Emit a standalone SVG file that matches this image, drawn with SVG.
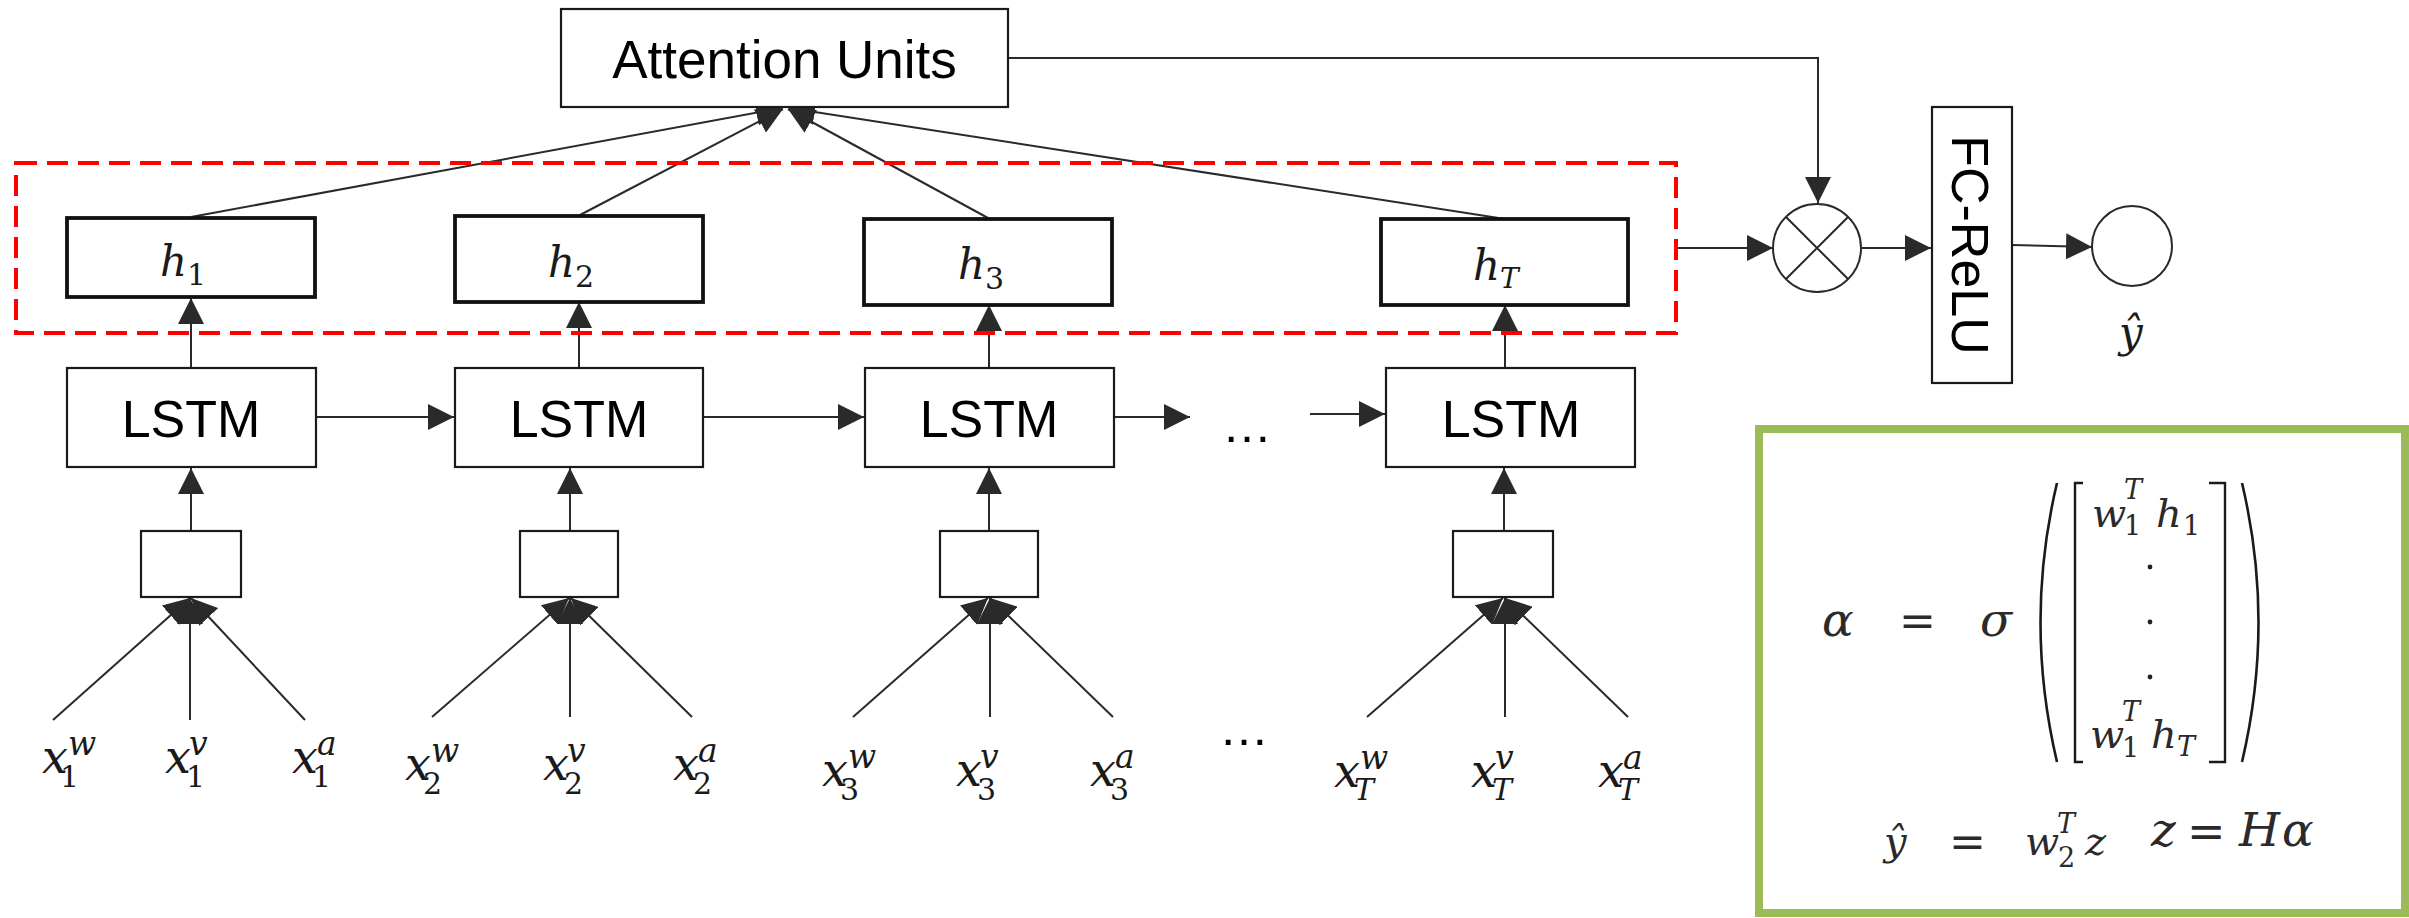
<svg xmlns="http://www.w3.org/2000/svg" width="2409" height="918" viewBox="0 0 2409 918">
<defs>
<marker id="arr" markerUnits="userSpaceOnUse" markerWidth="26" markerHeight="26" viewBox="0 0 26 26" refX="26" refY="13" orient="auto">
<path d="M0,0 L26,13 L0,26 z" fill="#2a2a2a"/>
</marker>
<style>
.box{fill:#fff;stroke:#1a1a1a;stroke-width:2.2}
.hbox{fill:#fff;stroke:#111;stroke-width:3.8}
.ln{fill:none;stroke:#2a2a2a;stroke-width:2}
.sans{font-family:"Liberation Sans",Arial,sans-serif;fill:#000}
.dv{font-family:"DejaVu Serif","Liberation Serif",serif;font-style:italic;fill:#1a1a1a}
.up{font-style:normal}
.xl{font-size:46px}
.sp{font-size:33px}
.sb{font-size:30px}
.fm{font-family:"DejaVu Serif","Liberation Serif",serif;font-style:italic;fill:#2a2a2a}
</style>
</defs>
<rect width="2409" height="918" fill="#fff"/>

<g id="connectors">
<path class="ln" d="M191,217 L782,108" marker-end="url(#arr)"/>
<path class="ln" d="M580,215 L783,109" marker-end="url(#arr)"/>
<path class="ln" d="M988,218 L788,109" marker-end="url(#arr)"/>
<path class="ln" d="M1505,219 L789,108" marker-end="url(#arr)"/>
<path class="ln" d="M1008,58 L1818,58 L1818,203" marker-end="url(#arr)"/>
<path class="ln" d="M191,368 L191,298" marker-end="url(#arr)"/>
<path class="ln" d="M579,368 L579,302" marker-end="url(#arr)"/>
<path class="ln" d="M989,368 L989,305" marker-end="url(#arr)"/>
<path class="ln" d="M1505,368 L1505,305" marker-end="url(#arr)"/>
<path class="ln" d="M316,417 L454,417" marker-end="url(#arr)"/>
<path class="ln" d="M703,417 L864,417" marker-end="url(#arr)"/>
<path class="ln" d="M1114,417 L1190,417" marker-end="url(#arr)"/>
<path class="ln" d="M1310,414 L1385,414" marker-end="url(#arr)"/>
<path class="ln" d="M191,531 L191,468" marker-end="url(#arr)"/>
<path class="ln" d="M570,531 L570,468" marker-end="url(#arr)"/>
<path class="ln" d="M989,531 L989,468" marker-end="url(#arr)"/>
<path class="ln" d="M1504,531 L1504,468" marker-end="url(#arr)"/>
<path class="ln" d="M53,720 L190,598" marker-end="url(#arr)"/>
<path class="ln" d="M190,720 L190,598" marker-end="url(#arr)"/>
<path class="ln" d="M305,720 L191,598" marker-end="url(#arr)"/>
<path class="ln" d="M432,717 L569,598" marker-end="url(#arr)"/>
<path class="ln" d="M570,717 L570,598" marker-end="url(#arr)"/>
<path class="ln" d="M692,717 L571,598" marker-end="url(#arr)"/>
<path class="ln" d="M853,717 L988,598" marker-end="url(#arr)"/>
<path class="ln" d="M990,717 L990,598" marker-end="url(#arr)"/>
<path class="ln" d="M1113,717 L990,598" marker-end="url(#arr)"/>
<path class="ln" d="M1367,717 L1503,598" marker-end="url(#arr)"/>
<path class="ln" d="M1505,717 L1505,598" marker-end="url(#arr)"/>
<path class="ln" d="M1628,717 L1505,598" marker-end="url(#arr)"/>
<path class="ln" d="M1676,248 L1773,248" marker-end="url(#arr)"/>
<path class="ln" d="M1862,248 L1931,248" marker-end="url(#arr)"/>
<path class="ln" d="M2012,245 L2092,247" marker-end="url(#arr)"/>
</g>

<g id="attention">
<rect class="box" x="561" y="9" width="447" height="98"/>
<text class="sans" x="784.5" y="78" font-size="53" text-anchor="middle">Attention Units</text>
</g>

<g id="hidden-group">
<rect x="16" y="163" width="1660" height="170" fill="none" stroke="#ff0000" stroke-width="4" stroke-dasharray="21 10"/>
</g>

<g id="h1">
<rect class="hbox" x="67" y="218" width="248" height="79"/>
<text class="dv" x="160" y="276" font-size="42">h<tspan class="up" font-size="30" dy="9">1</tspan></text>
</g>
<g id="h2">
<rect class="hbox" x="455" y="216" width="248" height="86"/>
<text class="dv" x="548" y="277" font-size="42">h<tspan class="up" font-size="30" dy="10">2</tspan></text>
</g>
<g id="h3">
<rect class="hbox" x="864" y="219" width="248" height="86"/>
<text class="dv" x="958" y="279" font-size="42">h<tspan class="up" font-size="30" dy="10">3</tspan></text>
</g>
<g id="hT">
<rect class="hbox" x="1381" y="219" width="247" height="86"/>
<text class="dv" x="1473" y="280" font-size="42">h<tspan font-size="28" dy="8">T</tspan></text>
</g>

<g id="lstm1">
<rect class="box" x="67" y="368" width="249" height="99"/>
<text class="sans" x="191" y="437" font-size="52" text-anchor="middle">LSTM</text>
</g>
<g id="lstm2">
<rect class="box" x="455" y="368" width="248" height="99"/>
<text class="sans" x="579" y="437" font-size="52" text-anchor="middle">LSTM</text>
</g>
<g id="lstm3">
<rect class="box" x="865" y="368" width="249" height="99"/>
<text class="sans" x="989" y="437" font-size="52" text-anchor="middle">LSTM</text>
</g>
<g id="lstm4">
<rect class="box" x="1386" y="368" width="249" height="99"/>
<text class="sans" x="1511" y="437" font-size="52" text-anchor="middle">LSTM</text>
</g>

<g id="ellipsis-1"><text class="sans" x="1222" y="442" font-size="50">…</text></g>
<g id="ellipsis-2"><text class="sans" x="1219" y="745" font-size="50">…</text></g>

<g id="fuse1"><rect class="box" x="141" y="531" width="100" height="66"/></g>
<g id="fuse2"><rect class="box" x="520" y="531" width="98" height="66"/></g>
<g id="fuse3"><rect class="box" x="940" y="531" width="98" height="66"/></g>
<g id="fuse4"><rect class="box" x="1453" y="531" width="100" height="66"/></g>

<g id="inputs-1">
<text class="dv xl" x="42" y="773">x<tspan class="sp" x="68" y="755">w</tspan><tspan class="sb up" x="60" y="787">1</tspan></text>
<text class="dv xl" x="165" y="773">x<tspan class="sp" x="189" y="755">v</tspan><tspan class="sb up" x="186" y="787">1</tspan></text>
<text class="dv xl" x="292" y="773">x<tspan class="sp" x="317" y="755">a</tspan><tspan class="sb up" x="312" y="787">1</tspan></text>
</g>
<g id="inputs-2">
<text class="dv xl" x="405" y="780">x<tspan class="sp" x="431" y="762">w</tspan><tspan class="sb up" x="423" y="794">2</tspan></text>
<text class="dv xl" x="543" y="780">x<tspan class="sp" x="567" y="762">v</tspan><tspan class="sb up" x="564" y="794">2</tspan></text>
<text class="dv xl" x="673" y="780">x<tspan class="sp" x="698" y="762">a</tspan><tspan class="sb up" x="693" y="794">2</tspan></text>
</g>
<g id="inputs-3">
<text class="dv xl" x="822" y="786">x<tspan class="sp" x="848" y="768">w</tspan><tspan class="sb up" x="840" y="800">3</tspan></text>
<text class="dv xl" x="956" y="786">x<tspan class="sp" x="980" y="768">v</tspan><tspan class="sb up" x="977" y="800">3</tspan></text>
<text class="dv xl" x="1090" y="786">x<tspan class="sp" x="1115" y="768">a</tspan><tspan class="sb up" x="1110" y="800">3</tspan></text>
</g>
<g id="inputs-T">
<text class="dv xl" x="1334" y="787">x<tspan class="sp" x="1360" y="769">w</tspan><tspan class="sb" x="1354" y="800">T</tspan></text>
<text class="dv xl" x="1471" y="787">x<tspan class="sp" x="1495" y="769">v</tspan><tspan class="sb" x="1492" y="800">T</tspan></text>
<text class="dv xl" x="1598" y="787">x<tspan class="sp" x="1623" y="769">a</tspan><tspan class="sb" x="1618" y="800">T</tspan></text>
</g>

<g id="product">
<circle cx="1817" cy="248" r="44" fill="#fff" stroke="#2a2a2a" stroke-width="2"/>
<path class="ln" d="M1786,217 L1848,279 M1848,217 L1786,279"/>
</g>

<g id="fc-relu">
<rect class="box" x="1932" y="107" width="80" height="276"/>
<text class="sans" font-size="52" text-anchor="middle" transform="translate(1952,245) rotate(90)" x="0" y="0">FC-ReLU</text>
</g>

<g id="output">
<circle cx="2132" cy="246" r="40" fill="#fff" stroke="#2a2a2a" stroke-width="2"/>
<text class="dv" x="2119" y="347" font-size="42">ŷ</text>
</g>

<g id="formula">
<rect x="1759" y="429" width="646" height="484" fill="#fff" stroke="#9bbb59" stroke-width="8"/>
<text class="fm" x="1822" y="636" font-size="47">α<tspan class="up" font-size="44" x="1899" y="636">=</tspan><tspan x="1980" y="636">σ</tspan></text>
<path d="M2057,483 Q2024,622 2057,762" fill="none" stroke="#1a1a1a" stroke-width="2.6"/>
<path d="M2083,483 L2075,483 L2075,762 L2083,762" fill="none" stroke="#1a1a1a" stroke-width="2.4"/>
<path d="M2209,483 L2225,483 L2225,762 L2209,762" fill="none" stroke="#1a1a1a" stroke-width="2.4"/>
<path d="M2242,483 Q2275,622 2242,762" fill="none" stroke="#1a1a1a" stroke-width="2.6"/>
<text class="fm" x="2092" y="527" font-size="40">w<tspan font-size="27" x="2124" y="499">T</tspan><tspan class="up" font-size="27" x="2124" y="535">1</tspan><tspan x="2156" y="527">h</tspan><tspan class="up" font-size="27" x="2183" y="535">1</tspan></text>
<circle cx="2150" cy="567" r="2.4" fill="#222"/>
<circle cx="2150" cy="622" r="2.4" fill="#222"/>
<circle cx="2150" cy="677" r="2.4" fill="#222"/>
<text class="fm" x="2090" y="748" font-size="40">w<tspan font-size="27" x="2122" y="721">T</tspan><tspan class="up" font-size="27" x="2122" y="757">1</tspan><tspan x="2151" y="748">h</tspan><tspan font-size="27" x="2177" y="756">T</tspan></text>
<text class="fm" x="1884" y="855" font-size="40">ŷ<tspan class="up" font-size="44" x="1949" y="857">=</tspan><tspan x="2025" y="855">w</tspan><tspan font-size="27" x="2057" y="833">T</tspan><tspan class="up" font-size="27" x="2058" y="867">2</tspan><tspan x="2085" y="855">z</tspan></text>
<text class="fm" x="2151" y="846" font-size="47">z<tspan class="up" font-size="46" x="2187" y="847">=</tspan><tspan x="2239" y="846">H</tspan><tspan x="2282" y="846">α</tspan></text>
</g>
</svg>
